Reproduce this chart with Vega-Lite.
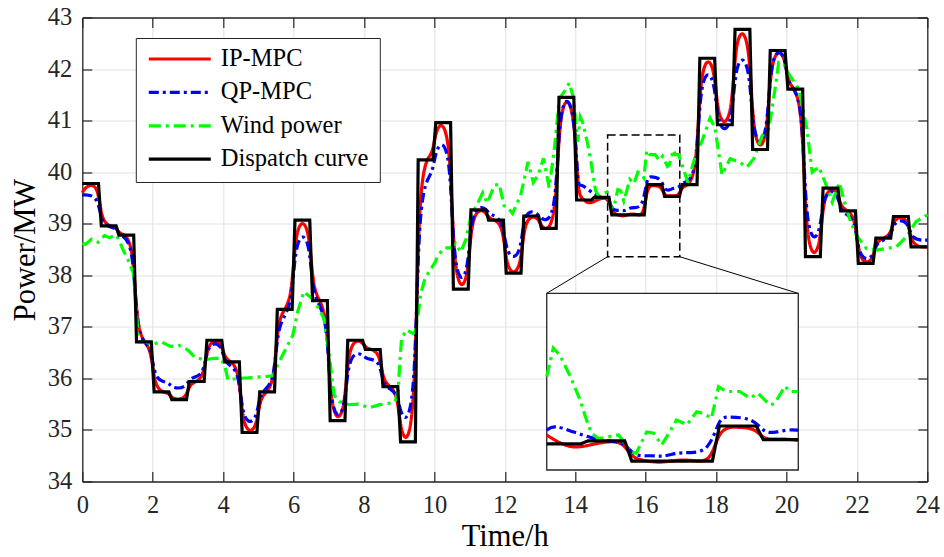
{
  "$schema": "https://vega.github.io/schema/vega-lite/v6.json",
  "width": 845,
  "height": 464,
  "autosize": "none",
  "padding": {"left": 82.3, "top": 17.5, "right": 16.7, "bottom": 75.5},
  "background": "white",
  "config": {
    "font": "Liberation Serif",
    "view": {"stroke": null},
    "style": {"guide-label": {"font": "Liberation Serif"}, "guide-title": {"font": "Liberation Serif"}},
    "axis": {"labelFont": "Liberation Serif", "titleFont": "Liberation Serif"},
    "legend": {
      "orient": "none",
      "legendX": 53.5,
      "legendY": 20.5,
      "title": null,
      "symbolType": "stroke",
      "symbolSize": 3844,
      "clipHeight": 20,
      "rowPadding": 8.4,
      "labelFont": "Liberation Serif",
      "labelFontSize": 24.5,
      "labelColor": "#000000",
      "labelOffset": 8,
      "labelLimit": 400,
      "padding": 11,
      "fillColor": "white",
      "strokeColor": "#262626"
    }
  },
  "datasets": {
    "d": [
      {"s":"IP-MPC","t":0,"v":39.6},{"s":"IP-MPC","t":0.12,"v":39.74},{"s":"IP-MPC","t":0.46,"v":39.78},
      {"s":"IP-MPC","t":0.54,"v":38.96},{"s":"IP-MPC","t":0.96,"v":38.96},
      {"s":"IP-MPC","t":1.04,"v":38.78},{"s":"IP-MPC","t":1.46,"v":38.78},
      {"s":"IP-MPC","t":1.54,"v":36.71},{"s":"IP-MPC","t":1.96,"v":36.71},
      {"s":"IP-MPC","t":2.04,"v":35.74},{"s":"IP-MPC","t":2.46,"v":35.74},
      {"s":"IP-MPC","t":2.54,"v":35.59},{"s":"IP-MPC","t":2.96,"v":35.59},
      {"s":"IP-MPC","t":3.04,"v":35.94},{"s":"IP-MPC","t":3.46,"v":35.94},
      {"s":"IP-MPC","t":3.54,"v":36.74},{"s":"IP-MPC","t":3.96,"v":36.74},
      {"s":"IP-MPC","t":4.04,"v":36.32},{"s":"IP-MPC","t":4.46,"v":36.32},
      {"s":"IP-MPC","t":4.54,"v":34.95},{"s":"IP-MPC","t":4.96,"v":34.95},
      {"s":"IP-MPC","t":5.04,"v":35.74},{"s":"IP-MPC","t":5.46,"v":35.74},
      {"s":"IP-MPC","t":5.54,"v":37.34},{"s":"IP-MPC","t":5.96,"v":37.34},
      {"s":"IP-MPC","t":6.04,"v":39.07},{"s":"IP-MPC","t":6.46,"v":39.07},
      {"s":"IP-MPC","t":6.54,"v":37.51},{"s":"IP-MPC","t":6.96,"v":37.51},
      {"s":"IP-MPC","t":7.04,"v":35.18},{"s":"IP-MPC","t":7.46,"v":35.18},
      {"s":"IP-MPC","t":7.54,"v":36.74},{"s":"IP-MPC","t":7.96,"v":36.74},
      {"s":"IP-MPC","t":8.04,"v":36.56},{"s":"IP-MPC","t":8.46,"v":36.56},
      {"s":"IP-MPC","t":8.54,"v":35.84},{"s":"IP-MPC","t":8.96,"v":35.84},
      {"s":"IP-MPC","t":9.04,"v":34.77},{"s":"IP-MPC","t":9.46,"v":34.77},
      {"s":"IP-MPC","t":9.54,"v":40.24},{"s":"IP-MPC","t":9.96,"v":40.24},
      {"s":"IP-MPC","t":10.04,"v":40.96},{"s":"IP-MPC","t":10.46,"v":40.96},
      {"s":"IP-MPC","t":10.54,"v":37.73},{"s":"IP-MPC","t":10.96,"v":37.73},
      {"s":"IP-MPC","t":11.04,"v":39.27},{"s":"IP-MPC","t":11.46,"v":39.27},
      {"s":"IP-MPC","t":11.54,"v":39.07},{"s":"IP-MPC","t":11.96,"v":39.07},
      {"s":"IP-MPC","t":12.04,"v":38.02},{"s":"IP-MPC","t":12.46,"v":38.02},
      {"s":"IP-MPC","t":12.54,"v":39.15},{"s":"IP-MPC","t":12.96,"v":39.15},
      {"s":"IP-MPC","t":13.04,"v":38.88},{"s":"IP-MPC","t":13.46,"v":38.88},
      {"s":"IP-MPC","t":13.54,"v":41.45},{"s":"IP-MPC","t":13.96,"v":41.45},
      {"s":"IP-MPC","t":14.07,"v":39.61},{"s":"IP-MPC","t":14.18,"v":39.5},{"s":"IP-MPC","t":14.37,"v":39.38},
      {"s":"IP-MPC","t":14.56,"v":39.44},{"s":"IP-MPC","t":14.75,"v":39.5},{"s":"IP-MPC","t":14.94,"v":39.5},
      {"s":"IP-MPC","t":15.04,"v":39.22},{"s":"IP-MPC","t":15.2,"v":39.17},{"s":"IP-MPC","t":15.38,"v":39.14},
      {"s":"IP-MPC","t":15.59,"v":39.2},{"s":"IP-MPC","t":15.78,"v":39.17},{"s":"IP-MPC","t":15.95,"v":39.17},
      {"s":"IP-MPC","t":16.04,"v":39.75},{"s":"IP-MPC","t":16.27,"v":39.74},{"s":"IP-MPC","t":16.45,"v":39.72},
      {"s":"IP-MPC","t":16.55,"v":39.52},{"s":"IP-MPC","t":16.73,"v":39.55},{"s":"IP-MPC","t":16.94,"v":39.52},
      {"s":"IP-MPC","t":17.04,"v":39.76},{"s":"IP-MPC","t":17.46,"v":39.76},
      {"s":"IP-MPC","t":17.54,"v":42.21},{"s":"IP-MPC","t":17.96,"v":42.21},
      {"s":"IP-MPC","t":18.04,"v":40.92},{"s":"IP-MPC","t":18.46,"v":40.92},
      {"s":"IP-MPC","t":18.54,"v":42.77},{"s":"IP-MPC","t":18.96,"v":42.77},
      {"s":"IP-MPC","t":19.04,"v":40.44},{"s":"IP-MPC","t":19.46,"v":40.44},
      {"s":"IP-MPC","t":19.54,"v":42.36},{"s":"IP-MPC","t":19.96,"v":42.36},
      {"s":"IP-MPC","t":20.04,"v":41.61},{"s":"IP-MPC","t":20.46,"v":41.61},
      {"s":"IP-MPC","t":20.54,"v":38.36},{"s":"IP-MPC","t":20.96,"v":38.36},
      {"s":"IP-MPC","t":21.04,"v":39.69},{"s":"IP-MPC","t":21.46,"v":39.69},
      {"s":"IP-MPC","t":21.54,"v":39.25},{"s":"IP-MPC","t":21.96,"v":39.25},
      {"s":"IP-MPC","t":22.04,"v":38.23},{"s":"IP-MPC","t":22.46,"v":38.23},
      {"s":"IP-MPC","t":22.54,"v":38.72},{"s":"IP-MPC","t":22.96,"v":38.72},
      {"s":"IP-MPC","t":23.04,"v":39.14},{"s":"IP-MPC","t":23.46,"v":39.14},
      {"s":"IP-MPC","t":23.54,"v":38.55},{"s":"IP-MPC","t":24,"v":38.55},

      {"s":"QP-MPC","t":0,"v":39.56},{"s":"QP-MPC","t":0.46,"v":39.56},
      {"s":"QP-MPC","t":0.54,"v":38.94},{"s":"QP-MPC","t":0.96,"v":38.94},
      {"s":"QP-MPC","t":1.04,"v":38.76},{"s":"QP-MPC","t":1.46,"v":38.7},
      {"s":"QP-MPC","t":1.54,"v":36.7},{"s":"QP-MPC","t":1.96,"v":36.7},
      {"s":"QP-MPC","t":2.04,"v":35.94},{"s":"QP-MPC","t":2.46,"v":35.94},
      {"s":"QP-MPC","t":2.54,"v":35.8},{"s":"QP-MPC","t":2.96,"v":35.82},
      {"s":"QP-MPC","t":3.04,"v":36.03},{"s":"QP-MPC","t":3.46,"v":36.03},
      {"s":"QP-MPC","t":3.54,"v":36.69},{"s":"QP-MPC","t":3.96,"v":36.69},
      {"s":"QP-MPC","t":4.04,"v":36.25},{"s":"QP-MPC","t":4.46,"v":36.22},
      {"s":"QP-MPC","t":4.54,"v":35.12},{"s":"QP-MPC","t":4.96,"v":35.14},
      {"s":"QP-MPC","t":5.04,"v":35.8},{"s":"QP-MPC","t":5.46,"v":35.82},
      {"s":"QP-MPC","t":5.54,"v":37.15},{"s":"QP-MPC","t":5.96,"v":37.28},
      {"s":"QP-MPC","t":6.04,"v":38.78},{"s":"QP-MPC","t":6.46,"v":38.82},
      {"s":"QP-MPC","t":6.54,"v":37.46},{"s":"QP-MPC","t":6.96,"v":37.36},
      {"s":"QP-MPC","t":7.04,"v":35.23},{"s":"QP-MPC","t":7.46,"v":35.23},
      {"s":"QP-MPC","t":7.54,"v":36.49},{"s":"QP-MPC","t":7.96,"v":36.49},
      {"s":"QP-MPC","t":8.04,"v":36.36},{"s":"QP-MPC","t":8.46,"v":36.38},
      {"s":"QP-MPC","t":8.54,"v":35.8},{"s":"QP-MPC","t":8.96,"v":35.78},
      {"s":"QP-MPC","t":9.04,"v":35.19},{"s":"QP-MPC","t":9.46,"v":35.19},
      {"s":"QP-MPC","t":9.54,"v":39.75},{"s":"QP-MPC","t":9.96,"v":39.9},
      {"s":"QP-MPC","t":10.04,"v":40.55},{"s":"QP-MPC","t":10.46,"v":40.62},
      {"s":"QP-MPC","t":10.54,"v":37.88},{"s":"QP-MPC","t":10.96,"v":37.88},
      {"s":"QP-MPC","t":11.04,"v":39.33},{"s":"QP-MPC","t":11.46,"v":39.33},
      {"s":"QP-MPC","t":11.54,"v":39.17},{"s":"QP-MPC","t":11.96,"v":39.12},
      {"s":"QP-MPC","t":12.04,"v":38.33},{"s":"QP-MPC","t":12.46,"v":38.33},
      {"s":"QP-MPC","t":12.54,"v":39.3},{"s":"QP-MPC","t":12.96,"v":39.2},
      {"s":"QP-MPC","t":13.04,"v":39.07},{"s":"QP-MPC","t":13.46,"v":39.05},
      {"s":"QP-MPC","t":13.54,"v":41.46},{"s":"QP-MPC","t":13.96,"v":41.46},
      {"s":"QP-MPC","t":14.07,"v":39.69},{"s":"QP-MPC","t":14.15,"v":39.78},{"s":"QP-MPC","t":14.37,"v":39.66},
      {"s":"QP-MPC","t":14.6,"v":39.55},{"s":"QP-MPC","t":14.75,"v":39.5},{"s":"QP-MPC","t":14.96,"v":39.5},
      {"s":"QP-MPC","t":15.06,"v":39.24},{"s":"QP-MPC","t":15.25,"v":39.27},{"s":"QP-MPC","t":15.4,"v":39.24},
      {"s":"QP-MPC","t":15.55,"v":39.31},{"s":"QP-MPC","t":15.7,"v":39.31},{"s":"QP-MPC","t":15.92,"v":39.33},
      {"s":"QP-MPC","t":16.04,"v":39.89},{"s":"QP-MPC","t":16.12,"v":39.92},{"s":"QP-MPC","t":16.43,"v":39.89},
      {"s":"QP-MPC","t":16.54,"v":39.66},{"s":"QP-MPC","t":16.65,"v":39.64},{"s":"QP-MPC","t":16.81,"v":39.7},
      {"s":"QP-MPC","t":16.94,"v":39.69},
      {"s":"QP-MPC","t":17.04,"v":39.82},{"s":"QP-MPC","t":17.46,"v":39.82},
      {"s":"QP-MPC","t":17.54,"v":41.95},{"s":"QP-MPC","t":17.96,"v":41.95},
      {"s":"QP-MPC","t":18.04,"v":40.79},{"s":"QP-MPC","t":18.46,"v":40.79},
      {"s":"QP-MPC","t":18.54,"v":42.24},{"s":"QP-MPC","t":18.96,"v":42.24},
      {"s":"QP-MPC","t":19.04,"v":40.53},{"s":"QP-MPC","t":19.46,"v":40.53},
      {"s":"QP-MPC","t":19.54,"v":42.37},{"s":"QP-MPC","t":19.96,"v":42.37},
      {"s":"QP-MPC","t":20.04,"v":41.6},{"s":"QP-MPC","t":20.46,"v":41.6},
      {"s":"QP-MPC","t":20.54,"v":38.68},{"s":"QP-MPC","t":20.96,"v":38.68},
      {"s":"QP-MPC","t":21.04,"v":39.65},{"s":"QP-MPC","t":21.46,"v":39.65},
      {"s":"QP-MPC","t":21.54,"v":39.17},{"s":"QP-MPC","t":21.96,"v":39.17},
      {"s":"QP-MPC","t":22.04,"v":38.3},{"s":"QP-MPC","t":22.46,"v":38.3},
      {"s":"QP-MPC","t":22.54,"v":38.68},{"s":"QP-MPC","t":22.96,"v":38.68},
      {"s":"QP-MPC","t":23.04,"v":39.07},{"s":"QP-MPC","t":23.46,"v":39.07},
      {"s":"QP-MPC","t":23.54,"v":38.68},{"s":"QP-MPC","t":24,"v":38.68},

      {"s":"Wind power","t":0,"v":38.62},{"s":"Wind power","t":0.09,"v":38.6},{"s":"Wind power","t":0.26,"v":38.7},
      {"s":"Wind power","t":0.45,"v":38.64},{"s":"Wind power","t":0.63,"v":38.77},{"s":"Wind power","t":0.77,"v":38.73},
      {"s":"Wind power","t":0.96,"v":38.78},{"s":"Wind power","t":1.05,"v":38.68},{"s":"Wind power","t":1.16,"v":38.49},
      {"s":"Wind power","t":1.3,"v":38.3},{"s":"Wind power","t":1.45,"v":38.04},{"s":"Wind power","t":1.59,"v":36.81},
      {"s":"Wind power","t":1.62,"v":36.71},{"s":"Wind power","t":1.77,"v":36.71},{"s":"Wind power","t":2.0,"v":36.66},
      {"s":"Wind power","t":2.24,"v":36.71},{"s":"Wind power","t":2.5,"v":36.62},{"s":"Wind power","t":2.75,"v":36.64},
      {"s":"Wind power","t":3.0,"v":36.55},{"s":"Wind power","t":3.2,"v":36.41},{"s":"Wind power","t":3.47,"v":36.36},
      {"s":"Wind power","t":3.75,"v":36.39},{"s":"Wind power","t":3.94,"v":36.39},{"s":"Wind power","t":4.05,"v":36.23},
      {"s":"Wind power","t":4.14,"v":35.97},{"s":"Wind power","t":4.42,"v":36.0},{"s":"Wind power","t":4.71,"v":36.01},
      {"s":"Wind power","t":5.09,"v":36.03},{"s":"Wind power","t":5.42,"v":36.05},{"s":"Wind power","t":5.55,"v":36.26},
      {"s":"Wind power","t":5.74,"v":36.52},{"s":"Wind power","t":5.98,"v":36.84},{"s":"Wind power","t":6.12,"v":37.3},
      {"s":"Wind power","t":6.29,"v":37.68},{"s":"Wind power","t":6.53,"v":37.55},{"s":"Wind power","t":6.72,"v":37.35},
      {"s":"Wind power","t":6.86,"v":37.16},{"s":"Wind power","t":7.0,"v":36.52},{"s":"Wind power","t":7.15,"v":35.68},
      {"s":"Wind power","t":7.3,"v":35.55},{"s":"Wind power","t":7.58,"v":35.49},{"s":"Wind power","t":7.86,"v":35.5},
      {"s":"Wind power","t":8.14,"v":35.43},{"s":"Wind power","t":8.45,"v":35.49},{"s":"Wind power","t":8.73,"v":35.52},
      {"s":"Wind power","t":8.88,"v":35.55},{"s":"Wind power","t":8.97,"v":35.75},{"s":"Wind power","t":9.02,"v":36.33},
      {"s":"Wind power","t":9.07,"v":36.78},{"s":"Wind power","t":9.21,"v":36.94},{"s":"Wind power","t":9.4,"v":36.87},
      {"s":"Wind power","t":9.45,"v":36.9},{"s":"Wind power","t":9.55,"v":37.3},{"s":"Wind power","t":9.62,"v":37.66},
      {"s":"Wind power","t":9.74,"v":37.95},{"s":"Wind power","t":9.88,"v":38.1},{"s":"Wind power","t":10.02,"v":38.25},
      {"s":"Wind power","t":10.11,"v":38.4},{"s":"Wind power","t":10.3,"v":38.53},{"s":"Wind power","t":10.44,"v":38.53},
      {"s":"Wind power","t":10.6,"v":38.62},{"s":"Wind power","t":10.75,"v":38.45},{"s":"Wind power","t":10.9,"v":38.7},
      {"s":"Wind power","t":11.05,"v":39.2},{"s":"Wind power","t":11.2,"v":39.35},{"s":"Wind power","t":11.37,"v":39.6},
      {"s":"Wind power","t":11.5,"v":39.4},{"s":"Wind power","t":11.7,"v":39.74},{"s":"Wind power","t":11.84,"v":39.77},
      {"s":"Wind power","t":11.98,"v":39.35},{"s":"Wind power","t":12.1,"v":39.3},{"s":"Wind power","t":12.22,"v":39.2},
      {"s":"Wind power","t":12.45,"v":39.55},{"s":"Wind power","t":12.66,"v":40.2},{"s":"Wind power","t":12.81,"v":39.8},
      {"s":"Wind power","t":12.95,"v":39.95},{"s":"Wind power","t":13.1,"v":40.27},{"s":"Wind power","t":13.26,"v":39.7},
      {"s":"Wind power","t":13.4,"v":40.4},{"s":"Wind power","t":13.55,"v":41.43},{"s":"Wind power","t":13.7,"v":41.57},
      {"s":"Wind power","t":13.83,"v":41.73},{"s":"Wind power","t":13.95,"v":41.45},{"s":"Wind power","t":14.07,"v":40.59},
      {"s":"Wind power","t":14.145,"v":41.07},{"s":"Wind power","t":14.22,"v":40.95},{"s":"Wind power","t":14.34,"v":40.59},
      {"s":"Wind power","t":14.45,"v":40.2},{"s":"Wind power","t":14.51,"v":39.92},{"s":"Wind power","t":14.58,"v":39.64},
      {"s":"Wind power","t":14.66,"v":39.55},{"s":"Wind power","t":14.75,"v":39.57},{"s":"Wind power","t":14.89,"v":39.61},
      {"s":"Wind power","t":14.96,"v":39.47},{"s":"Wind power","t":15.02,"v":39.33},{"s":"Wind power","t":15.09,"v":39.3},
      {"s":"Wind power","t":15.21,"v":39.66},{"s":"Wind power","t":15.29,"v":39.64},{"s":"Wind power","t":15.38,"v":39.44},
      {"s":"Wind power","t":15.44,"v":39.58},{"s":"Wind power","t":15.55,"v":39.86},{"s":"Wind power","t":15.67,"v":39.78},
      {"s":"Wind power","t":15.78,"v":40.0},{"s":"Wind power","t":15.86,"v":39.97},{"s":"Wind power","t":15.95,"v":39.89},
      {"s":"Wind power","t":16.03,"v":40.42},{"s":"Wind power","t":16.12,"v":40.34},{"s":"Wind power","t":16.27,"v":40.34},
      {"s":"Wind power","t":16.39,"v":40.23},{"s":"Wind power","t":16.48,"v":40.31},{"s":"Wind power","t":16.62,"v":40.11},
      {"s":"Wind power","t":16.67,"v":40.14},{"s":"Wind power","t":16.79,"v":40.43},{"s":"Wind power","t":16.84,"v":40.34},
      {"s":"Wind power","t":16.94,"v":40.34},{"s":"Wind power","t":17.2,"v":39.8},{"s":"Wind power","t":17.4,"v":40.29},
      {"s":"Wind power","t":17.6,"v":40.6},{"s":"Wind power","t":17.83,"v":41.05},{"s":"Wind power","t":17.97,"v":40.86},
      {"s":"Wind power","t":18.17,"v":39.95},{"s":"Wind power","t":18.26,"v":40.07},{"s":"Wind power","t":18.4,"v":40.26},
      {"s":"Wind power","t":18.65,"v":40.2},{"s":"Wind power","t":18.88,"v":40.1},{"s":"Wind power","t":19.07,"v":40.26},
      {"s":"Wind power","t":19.31,"v":40.71},{"s":"Wind power","t":19.5,"v":40.84},{"s":"Wind power","t":19.69,"v":41.68},
      {"s":"Wind power","t":19.78,"v":42.13},{"s":"Wind power","t":19.92,"v":42.1},{"s":"Wind power","t":20.07,"v":41.9},
      {"s":"Wind power","t":20.35,"v":41.61},{"s":"Wind power","t":20.58,"v":40.84},{"s":"Wind power","t":20.73,"v":40.0},
      {"s":"Wind power","t":20.92,"v":40.1},{"s":"Wind power","t":21.1,"v":39.8},{"s":"Wind power","t":21.3,"v":39.42},
      {"s":"Wind power","t":21.5,"v":39.8},{"s":"Wind power","t":21.65,"v":39.42},{"s":"Wind power","t":21.79,"v":39.1},
      {"s":"Wind power","t":21.98,"v":38.78},{"s":"Wind power","t":22.27,"v":38.52},{"s":"Wind power","t":22.55,"v":38.49},
      {"s":"Wind power","t":22.83,"v":38.52},{"s":"Wind power","t":23.12,"v":38.55},{"s":"Wind power","t":23.4,"v":38.74},
      {"s":"Wind power","t":23.68,"v":39.04},{"s":"Wind power","t":23.97,"v":39.16},{"s":"Wind power","t":24,"v":39.2},

      {"s":"Dispatch curve","t":0,"v":39.78},{"s":"Dispatch curve","t":0.46,"v":39.78},
      {"s":"Dispatch curve","t":0.54,"v":38.96},{"s":"Dispatch curve","t":0.96,"v":38.96},
      {"s":"Dispatch curve","t":1.04,"v":38.78},{"s":"Dispatch curve","t":1.46,"v":38.78},
      {"s":"Dispatch curve","t":1.54,"v":36.71},{"s":"Dispatch curve","t":1.96,"v":36.71},
      {"s":"Dispatch curve","t":2.04,"v":35.74},{"s":"Dispatch curve","t":2.46,"v":35.74},
      {"s":"Dispatch curve","t":2.54,"v":35.59},{"s":"Dispatch curve","t":2.96,"v":35.59},
      {"s":"Dispatch curve","t":3.04,"v":35.94},{"s":"Dispatch curve","t":3.46,"v":35.94},
      {"s":"Dispatch curve","t":3.54,"v":36.74},{"s":"Dispatch curve","t":3.96,"v":36.74},
      {"s":"Dispatch curve","t":4.04,"v":36.32},{"s":"Dispatch curve","t":4.46,"v":36.32},
      {"s":"Dispatch curve","t":4.54,"v":34.95},{"s":"Dispatch curve","t":4.96,"v":34.95},
      {"s":"Dispatch curve","t":5.04,"v":35.74},{"s":"Dispatch curve","t":5.46,"v":35.74},
      {"s":"Dispatch curve","t":5.54,"v":37.34},{"s":"Dispatch curve","t":5.96,"v":37.34},
      {"s":"Dispatch curve","t":6.04,"v":39.07},{"s":"Dispatch curve","t":6.46,"v":39.07},
      {"s":"Dispatch curve","t":6.54,"v":37.51},{"s":"Dispatch curve","t":6.96,"v":37.51},
      {"s":"Dispatch curve","t":7.04,"v":35.18},{"s":"Dispatch curve","t":7.46,"v":35.18},
      {"s":"Dispatch curve","t":7.54,"v":36.74},{"s":"Dispatch curve","t":7.96,"v":36.74},
      {"s":"Dispatch curve","t":8.04,"v":36.56},{"s":"Dispatch curve","t":8.46,"v":36.56},
      {"s":"Dispatch curve","t":8.54,"v":35.84},{"s":"Dispatch curve","t":8.96,"v":35.84},
      {"s":"Dispatch curve","t":9.04,"v":34.77},{"s":"Dispatch curve","t":9.46,"v":34.77},
      {"s":"Dispatch curve","t":9.54,"v":40.24},{"s":"Dispatch curve","t":9.96,"v":40.24},
      {"s":"Dispatch curve","t":10.04,"v":40.96},{"s":"Dispatch curve","t":10.46,"v":40.96},
      {"s":"Dispatch curve","t":10.54,"v":37.73},{"s":"Dispatch curve","t":10.96,"v":37.73},
      {"s":"Dispatch curve","t":11.04,"v":39.27},{"s":"Dispatch curve","t":11.46,"v":39.27},
      {"s":"Dispatch curve","t":11.54,"v":39.07},{"s":"Dispatch curve","t":11.96,"v":39.07},
      {"s":"Dispatch curve","t":12.04,"v":38.04},{"s":"Dispatch curve","t":12.46,"v":38.04},
      {"s":"Dispatch curve","t":12.54,"v":39.15},{"s":"Dispatch curve","t":12.96,"v":39.15},
      {"s":"Dispatch curve","t":13.04,"v":38.91},{"s":"Dispatch curve","t":13.46,"v":38.91},
      {"s":"Dispatch curve","t":13.54,"v":41.45},{"s":"Dispatch curve","t":13.96,"v":41.45},
      {"s":"Dispatch curve","t":14.04,"v":39.46},{"s":"Dispatch curve","t":14.07,"v":39.46},{"s":"Dispatch curve","t":14.46,"v":39.46},
      {"s":"Dispatch curve","t":14.54,"v":39.51},{"s":"Dispatch curve","t":14.96,"v":39.51},
      {"s":"Dispatch curve","t":15.04,"v":39.17},{"s":"Dispatch curve","t":15.96,"v":39.17},
      {"s":"Dispatch curve","t":16.04,"v":39.76},{"s":"Dispatch curve","t":16.46,"v":39.76},
      {"s":"Dispatch curve","t":16.54,"v":39.53},{"s":"Dispatch curve","t":16.94,"v":39.53},{"s":"Dispatch curve","t":16.96,"v":39.53},
      {"s":"Dispatch curve","t":17.04,"v":39.76},{"s":"Dispatch curve","t":17.46,"v":39.76},
      {"s":"Dispatch curve","t":17.54,"v":42.21},{"s":"Dispatch curve","t":17.96,"v":42.21},
      {"s":"Dispatch curve","t":18.04,"v":40.92},{"s":"Dispatch curve","t":18.46,"v":40.92},
      {"s":"Dispatch curve","t":18.54,"v":42.77},{"s":"Dispatch curve","t":18.96,"v":42.77},
      {"s":"Dispatch curve","t":19.04,"v":40.44},{"s":"Dispatch curve","t":19.46,"v":40.44},
      {"s":"Dispatch curve","t":19.54,"v":42.36},{"s":"Dispatch curve","t":19.96,"v":42.36},
      {"s":"Dispatch curve","t":20.04,"v":41.61},{"s":"Dispatch curve","t":20.46,"v":41.61},
      {"s":"Dispatch curve","t":20.54,"v":38.36},{"s":"Dispatch curve","t":20.96,"v":38.36},
      {"s":"Dispatch curve","t":21.04,"v":39.69},{"s":"Dispatch curve","t":21.46,"v":39.69},
      {"s":"Dispatch curve","t":21.54,"v":39.25},{"s":"Dispatch curve","t":21.96,"v":39.25},
      {"s":"Dispatch curve","t":22.04,"v":38.23},{"s":"Dispatch curve","t":22.46,"v":38.23},
      {"s":"Dispatch curve","t":22.54,"v":38.72},{"s":"Dispatch curve","t":22.96,"v":38.72},
      {"s":"Dispatch curve","t":23.04,"v":39.14},{"s":"Dispatch curve","t":23.46,"v":39.14},
      {"s":"Dispatch curve","t":23.54,"v":38.55},{"s":"Dispatch curve","t":24,"v":38.55}
    ],
    "zoombox": [{"x1": 14.92, "x2": 16.97, "y1": 38.36, "y2": 40.72}],
    "links": [
      {"x1": 14.92, "y1": 38.36, "x2": 13.19, "y2": 37.65},
      {"x1": 16.97, "y1": 38.36, "x2": 20.33, "y2": 37.65}
    ],
    "insetbox": [{"x1": 14.07, "x2": 16.94, "y1": 39.02, "y2": 41.99}]
  },
  "layer": [
    {
      "resolve": {"axis": {"x": "independent", "y": "independent"}},
      "layer": [
        {
          "data": {"name": "zoombox"},
          "mark": {"type": "rect", "fill": null, "filled": false, "stroke": "#000000", "strokeWidth": 1.5, "strokeDash": [8, 4]},
          "encoding": {
            "x": {"field": "x1", "type": "quantitative", "scale": {"domain": [0, 24], "nice": false, "zero": false},
              "axis": {"orient": "bottom", "values": [0,2,4,6,8,10,12,14,16,18,20,22,24], "grid": true, "gridColor": "#e2e2e2", "gridWidth": 1,
                "tickSize": -10, "tickColor": "#262626", "tickWidth": 1.2, "domainColor": "#262626", "domainWidth": 1.3,
                "labelFont": "Liberation Serif", "labelFontSize": 24.5, "labelColor": "#262626", "labelPadding": 22, "labelFlush": false, "labelOverlap": false,
                "title": "Time/h", "titleFont": "Liberation Serif", "titleFontSize": 30.5, "titleFontWeight": "normal", "titleColor": "#000000", "titlePadding": 4}},
            "x2": {"field": "x2"},
            "y": {"field": "y1", "type": "quantitative", "scale": {"domain": [34, 43], "nice": false, "zero": false},
              "axis": {"orient": "left", "values": [34,35,36,37,38,39,40,41,42,43], "grid": true, "gridColor": "#e2e2e2", "gridWidth": 1,
                "tickSize": -9.5, "tickColor": "#262626", "tickWidth": 1.2, "domainColor": "#262626", "domainWidth": 1.3,
                "labelFont": "Liberation Serif", "labelFontSize": 24.5, "labelColor": "#262626", "labelPadding": 20, "labelFlush": false, "labelOverlap": false,
                "title": "Power/MW", "titleFont": "Liberation Serif", "titleFontSize": 30.5, "titleFontWeight": "normal", "titleColor": "#000000", "titlePadding": 7}},
            "y2": {"field": "y2"}
          }
        },
        {
          "data": {"name": "links"},
          "mark": {"type": "rule", "color": "#000000", "strokeWidth": 1},
          "encoding": {
            "x": {"field": "x1", "type": "quantitative", "scale": {"domain": [0, 24], "nice": false, "zero": false},
              "axis": {"orient": "top", "values": [0,2,4,6,8,10,12,14,16,18,20,22,24], "grid": false, "labels": false, "title": null,
                "tickSize": -10, "tickColor": "#262626", "tickWidth": 1.2, "domainColor": "#262626", "domainWidth": 1.3}},
            "x2": {"field": "x2"},
            "y": {"field": "y1", "type": "quantitative", "scale": {"domain": [34, 43], "nice": false, "zero": false},
              "axis": {"orient": "right", "values": [34,35,36,37,38,39,40,41,42,43], "grid": false, "labels": false, "title": null,
                "tickSize": -9.5, "tickColor": "#262626", "tickWidth": 1.2, "domainColor": "#262626", "domainWidth": 1.3}},
            "y2": {"field": "y2"}
          }
        },
        {
          "data": {"name": "d"},
          "encoding": {
            "x": {"field": "t", "type": "quantitative", "scale": {"domain": [0, 24], "nice": false, "zero": false}, "axis": null},
            "y": {"field": "v", "type": "quantitative", "scale": {"domain": [34, 43], "nice": false, "zero": false}, "axis": null},
            "color": {"field": "s", "type": "nominal", "scale": {"domain": ["IP-MPC", "QP-MPC", "Wind power", "Dispatch curve"], "range": ["#ff0000", "#0000ff", "#00ff00", "#000000"]},
              "legend": {"labelFont": "Liberation Serif", "labelFontSize": 24.5}},
            "strokeDash": {"field": "s", "type": "nominal", "scale": {"domain": ["IP-MPC", "QP-MPC", "Wind power", "Dispatch curve"], "range": [[1, 0], [10, 4, 3, 4], [12, 5, 3, 5], [1, 0]]},
              "legend": {"labelFont": "Liberation Serif", "labelFontSize": 24.5}},
            "strokeWidth": {"field": "s", "type": "ordinal", "scale": {"domain": ["IP-MPC", "QP-MPC", "Wind power", "Dispatch curve"], "range": [3.2, 3.2, 3.2, 4.6]},
              "legend": {"labelFont": "Liberation Serif", "labelFontSize": 24.5}}
          },
          "layer": [
            {"transform": [{"filter": "datum.s === 'IP-MPC'"}], "mark": {"type": "line", "interpolate": "basis"}},
            {"transform": [{"filter": "datum.s === 'QP-MPC'"}], "mark": {"type": "line", "interpolate": "basis"}},
            {"transform": [{"filter": "datum.s === 'Wind power'"}], "mark": {"type": "line"}},
            {"transform": [{"filter": "datum.s === 'Dispatch curve'"}], "mark": {"type": "line"}}
          ]
        }
      ]
    },
    {
      "layer": [
        {
          "data": {"name": "insetbox"},
          "mark": {"type": "rect", "fill": "white", "stroke": "#262626", "strokeWidth": 1.3},
          "encoding": {
            "x": {"field": "x1", "type": "quantitative", "scale": {"domain": [8.771, 18.412], "nice": false, "zero": false}, "axis": null},
            "x2": {"field": "x2"},
            "y": {"field": "y1", "type": "quantitative", "scale": {"domain": [38.827, 46.626], "nice": false, "zero": false}, "axis": null},
            "y2": {"field": "y2"}
          }
        },
        {
          "data": {"name": "d"},
          "transform": [{"filter": {"field": "t", "range": [14.07, 16.94]}}],
          "encoding": {
            "x": {"field": "t", "type": "quantitative", "scale": {"domain": [8.771, 18.412], "nice": false, "zero": false}, "axis": null},
            "y": {"field": "v", "type": "quantitative", "scale": {"domain": [38.827, 46.626], "nice": false, "zero": false}, "axis": null},
            "color": {"field": "s", "type": "nominal", "scale": {"domain": ["IP-MPC", "QP-MPC", "Wind power", "Dispatch curve"], "range": ["#ff0000", "#0000ff", "#00ff00", "#000000"]}},
            "strokeDash": {"field": "s", "type": "nominal", "scale": {"domain": ["IP-MPC", "QP-MPC", "Wind power", "Dispatch curve"], "range": [[1, 0], [10, 4, 3, 4], [12, 5, 3, 5], [1, 0]]}},
            "strokeWidth": {"field": "s", "type": "ordinal", "scale": {"domain": ["IP-MPC", "QP-MPC", "Wind power", "Dispatch curve"], "range": [3.2, 3.2, 3.2, 4.6]}}
          },
          "layer": [
            {"transform": [{"filter": "datum.s === 'IP-MPC'"}], "mark": {"type": "line", "interpolate": "basis"}},
            {"transform": [{"filter": "datum.s === 'QP-MPC'"}], "mark": {"type": "line", "interpolate": "basis"}},
            {"transform": [{"filter": "datum.s === 'Wind power'"}], "mark": {"type": "line"}},
            {"transform": [{"filter": "datum.s === 'Dispatch curve'"}], "mark": {"type": "line"}}
          ]
        }
      ]
    }
  ],
  "resolve": {"scale": {"x": "independent", "y": "independent"}}
}
